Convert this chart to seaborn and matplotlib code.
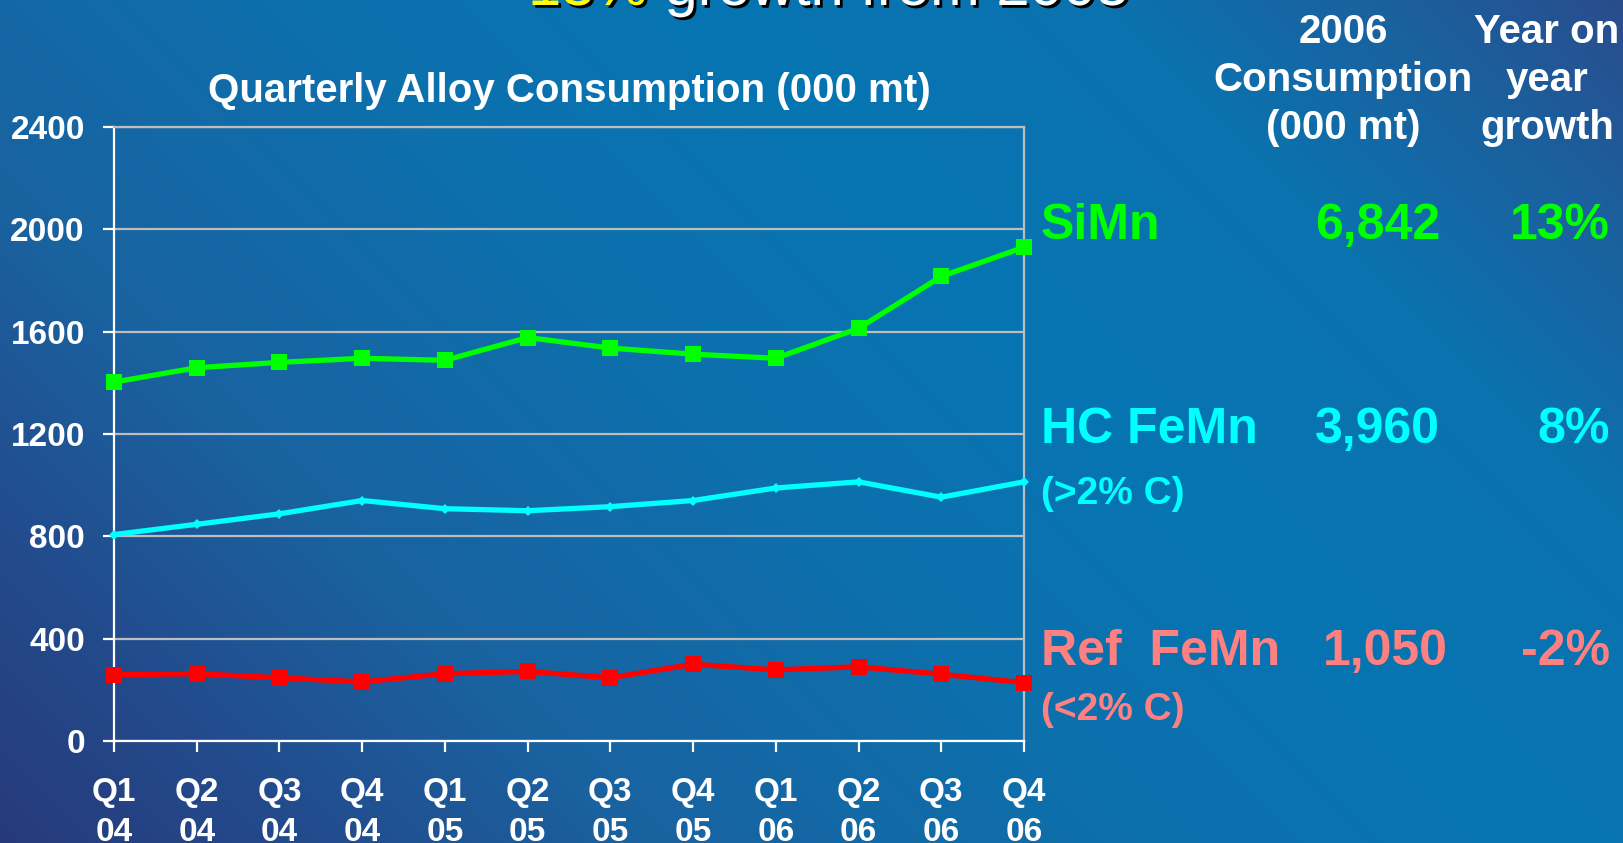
import numpy as np
import pandas as pd
import seaborn as sns
import matplotlib.pyplot as plt
from matplotlib.colors import to_rgb
import matplotlib.patheffects as pe

# data (000 mt per quarter)
quarters = ['Q1\n04', 'Q2\n04', 'Q3\n04', 'Q4\n04', 'Q1\n05', 'Q2\n05',
            'Q3\n05', 'Q4\n05', 'Q1\n06', 'Q2\n06', 'Q3\n06', 'Q4\n06']
simn = [1403, 1459, 1480, 1496, 1488, 1577, 1536, 1512, 1496, 1613, 1816, 1930]
hc_femn = [807, 847, 888, 940, 908, 900, 916, 940, 989, 1013, 953, 1013]
ref_femn = [259, 263, 247, 231, 263, 272, 247, 300, 278, 290, 261, 228]

series_names = ['SiMn', 'HC FeMn', 'Ref FeMn']
series_colors = ['#00ff00', '#00ffff', '#ff0000']
text_colors = ['#00ff00', '#00ffff', '#ff8080']
consumption_2006 = ['6,842', '3,960', '1,050']
yoy_growth = ['13%', '8%', '-2%']
sub_labels = ['', '(>2% C)', '(<2% C)']
yticks = [0, 400, 800, 1200, 1600, 2000, 2400]

df = pd.DataFrame({
    'pos': list(range(len(quarters))) * 3,
    'value': simn + hc_femn + ref_femn,
    'alloy': [n for n in series_names for _ in quarters],
})

sns.set_theme(style='white')
plt.rcParams['font.family'] = ['Liberation Sans', 'DejaVu Sans']

W, H = 1624, 843
fig = plt.figure(figsize=(W / 100, H / 100), dpi=100)

# background gradient, dark navy bottom-left -> bright blue -> darker top-right
bg = fig.add_axes([0, 0, 1, 1], zorder=-10)
xx, yy = np.meshgrid(np.arange(W), np.arange(H))
t = xx - yy
stops_t = [-843, -500, -200, 300, 700, 1100, 1400, 1624]
stops_c = ['#273a7b', '#224d8e', '#1a62a0', '#0d70ad', '#0675b2',
           '#0b72ae', '#1c5f9d', '#2a4c8c']
rgb = np.array([to_rgb(c) for c in stops_c])
img = np.dstack([np.interp(t, stops_t, rgb[:, k]) for k in range(3)])
bg.imshow(img, aspect='auto', extent=[0, 1, 0, 1], origin='upper')
bg.axis('off')

ax = fig.add_axes([114 / W, 1 - 741 / H, 910 / W, 614 / H])
ax.set_facecolor('none')

sns.lineplot(data=df, x='pos', y='value', hue='alloy', style='alloy',
             palette=dict(zip(series_names, series_colors)),
             markers={'SiMn': 's', 'HC FeMn': 'D', 'Ref FeMn': 's'},
             dashes=False, linewidth=3.8, markersize=11, markeredgewidth=0,
             legend=False, ax=ax, clip_on=False, zorder=5)
# smaller diamonds on HC FeMn
for line in ax.get_lines():
    if line.get_marker() == 'D':
        line.set_markersize(5.5)

ax.set_xlim(0, len(quarters) - 1)
ax.set_ylim(0, 2400)
ax.set_yticks(yticks)
ax.set_yticklabels([str(v) for v in yticks])
ax.set_xticks(range(len(quarters)))
ax.set_xticklabels(quarters, linespacing=1.38)
ax.set_xlabel('')
ax.set_ylabel('')
ax.yaxis.grid(True, color='#bdbdbd', linewidth=1.6)
ax.set_axisbelow(True)
for side in ['left', 'bottom']:
    ax.spines[side].set_color('white')
    ax.spines[side].set_linewidth(1.6)
for side in ['top', 'right']:
    ax.spines[side].set_color('#bdbdbd')
    ax.spines[side].set_linewidth(1.6)
ax.tick_params(axis='both', colors='white', length=8, width=1.6,
               labelsize=24, direction='out', left=True, bottom=True)
ax.tick_params(axis='y', pad=13)
ax.tick_params(axis='x', pad=18)
for lab in ax.get_xticklabels() + ax.get_yticklabels():
    lab.set_fontweight('bold')
    lab.set_color('white')

ax.set_title('Quarterly Alloy Consumption (000 mt)', color='white',
             fontsize=29, fontweight='bold', pad=18)

# cut-off headline at the very top: yellow figure, white rest
shadow = [pe.withSimplePatchShadow(offset=(2, -2), shadow_rgbFace='black', alpha=1)]
head = fig.text(528 / W, 1 - 5 / H, '13%', color='#ffff00',
                fontsize=43, ha='left', va='baseline', path_effects=shadow)
bb = head.get_window_extent(renderer=fig.canvas.get_renderer())
fig.text((bb.x1 + 17) / W, 1 - 5 / H, 'growth from 2005', color='white',
         fontsize=43, ha='left', va='baseline', path_effects=shadow)

# right hand table
fig.text(1343 / W, 1 - 80 / H, '2006\nConsumption\n(000 mt)', color='white',
         fontsize=29, fontweight='bold', ha='center', va='center', linespacing=1.32)
fig.text(1547 / W, 1 - 80 / H, 'Year on\nyear\ngrowth', color='white',
         fontsize=29, fontweight='bold', ha='center', va='center', linespacing=1.32)

name_y = [226, 430, 652]
sub_y = [None, 494, 710]
num_x = [1440, 1440, 1448]
for i, name in enumerate(series_names):
    c = text_colors[i]
    fig.text(1041 / W, 1 - name_y[i] / H, name.replace('Ref ', 'Ref  '), color=c,
             fontsize=36, fontweight='bold', ha='left', va='center')
    fig.text(num_x[i] / W, 1 - name_y[i] / H, consumption_2006[i], color=c,
             fontsize=36, fontweight='bold', ha='right', va='center')
    fig.text(1610 / W, 1 - name_y[i] / H, yoy_growth[i], color=c,
             fontsize=36, fontweight='bold', ha='right', va='center')
    if sub_labels[i]:
        fig.text(1041 / W, 1 - sub_y[i] / H, sub_labels[i], color=c,
                 fontsize=28, fontweight='bold', ha='left', va='center')

fig.savefig('out.png', dpi=100)
